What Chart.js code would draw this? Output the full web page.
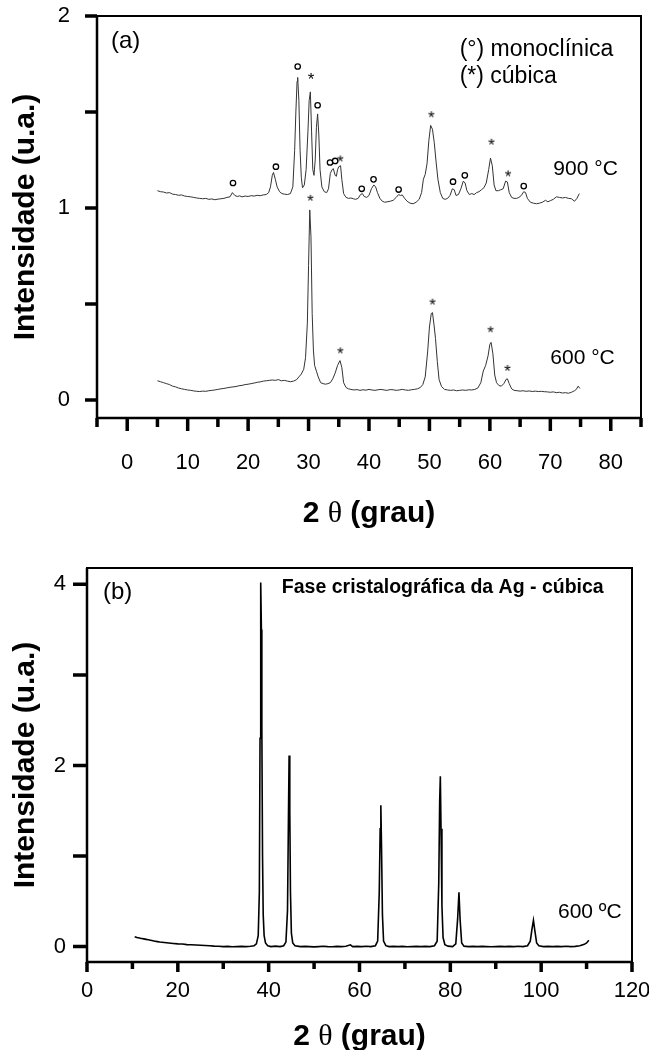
<!DOCTYPE html>
<html>
<head>
<meta charset="utf-8">
<script src="https://cdn.jsdelivr.net/npm/chart.js@4.4.1/dist/chart.umd.min.js"></script>
<style>
  body { margin: 0; background: #fff; }
  canvas { display: block; }
</style>
</head>
<body>
<canvas id="chartA" width="649" height="540"></canvas>
<canvas id="chartB" width="649" height="510"></canvas>
<script>
// ---- data (a): ZrO2 patterns, 2theta vs intensity ----
const x900 = [5.0,5.5,6.0,6.5,7.0,7.5,8.0,8.5,9.0,9.5,10.0,10.5,11.0,11.5,12.0,12.5,13.0,13.5,14.0,14.5,15.0,15.5,16.0,16.5,17.0,17.4,17.8,18.2,18.6,19.0,19.5,20.0,20.5,21.0,21.5,22.0,22.5,23.0,23.4,23.7,24.0,24.2,24.5,24.8,25.2,25.6,26.0,26.5,27.0,27.4,27.7,27.9,28.1,28.2,28.4,28.6,28.8,29.0,29.3,29.6,29.9,30.1,30.3,30.5,30.7,30.9,31.1,31.3,31.5,31.7,31.9,32.2,32.6,33.0,33.3,33.6,33.9,34.1,34.4,34.6,34.8,35.0,35.3,35.5,35.8,36.2,36.6,37.0,37.4,37.8,38.2,38.6,38.9,39.2,39.6,40.0,40.4,40.8,41.1,41.4,41.8,42.2,42.6,43.0,43.5,44.0,44.5,44.9,45.2,45.5,45.9,46.3,46.8,47.3,47.8,48.3,48.7,49.0,49.3,49.6,49.9,50.2,50.5,50.8,51.1,51.4,51.8,52.2,52.6,53.0,53.4,53.8,54.1,54.4,54.8,55.2,55.6,55.9,56.2,56.6,57.0,57.4,57.8,58.2,58.6,59.0,59.4,59.8,60.1,60.4,60.7,61.0,61.4,61.8,62.2,62.6,62.9,63.2,63.6,64.0,64.4,64.8,65.2,65.6,65.9,66.2,66.7,67.2,67.7,68.2,68.7,69.2,69.6,70.0,70.5,71.0,71.5,72.0,72.5,73.0,73.5,74.0,74.4,74.8];
const y900 = [1.090,1.085,1.083,1.078,1.080,1.072,1.070,1.066,1.068,1.062,1.060,1.058,1.055,1.052,1.050,1.048,1.050,1.045,1.047,1.043,1.046,1.048,1.050,1.055,1.058,1.080,1.065,1.060,1.063,1.058,1.062,1.060,1.064,1.062,1.066,1.064,1.068,1.070,1.080,1.110,1.170,1.185,1.150,1.110,1.085,1.075,1.072,1.070,1.075,1.110,1.300,1.500,1.660,1.680,1.560,1.300,1.160,1.105,1.120,1.200,1.400,1.560,1.605,1.400,1.200,1.170,1.250,1.420,1.490,1.380,1.200,1.110,1.085,1.080,1.100,1.180,1.200,1.205,1.170,1.165,1.200,1.215,1.220,1.150,1.075,1.055,1.050,1.052,1.048,1.045,1.050,1.070,1.075,1.060,1.055,1.065,1.100,1.120,1.110,1.080,1.050,1.035,1.030,1.032,1.035,1.040,1.055,1.070,1.065,1.068,1.050,1.035,1.025,1.022,1.030,1.045,1.080,1.150,1.175,1.230,1.350,1.430,1.410,1.340,1.240,1.150,1.080,1.050,1.045,1.050,1.065,1.100,1.095,1.065,1.070,1.100,1.140,1.130,1.090,1.070,1.075,1.070,1.080,1.085,1.095,1.105,1.130,1.200,1.260,1.220,1.120,1.090,1.090,1.095,1.100,1.140,1.135,1.080,1.055,1.050,1.050,1.055,1.065,1.085,1.080,1.050,1.030,1.025,1.022,1.025,1.030,1.040,1.032,1.038,1.045,1.058,1.055,1.052,1.055,1.050,1.048,1.035,1.050,1.075];

const x600 = [5.0,5.5,6.0,6.5,7.0,7.5,8.0,8.5,9.0,9.5,10.0,10.5,11.0,11.5,12.0,12.5,13.0,13.5,14.0,14.5,15.0,15.5,16.0,16.5,17.0,17.5,18.0,18.5,19.0,19.5,20.0,20.5,21.0,21.5,22.0,22.5,23.0,23.5,24.0,24.5,25.0,25.5,26.0,26.5,27.0,27.5,28.0,28.4,28.8,29.2,29.5,29.8,30.0,30.2,30.4,30.6,30.8,31.0,31.3,31.6,32.0,32.4,32.8,33.2,33.6,34.0,34.4,34.8,35.2,35.5,35.8,36.2,36.6,37.0,37.5,38.0,38.5,39.0,39.5,40.0,40.5,41.0,41.5,42.0,42.5,43.0,43.5,44.0,44.5,45.0,45.5,46.0,46.5,47.0,47.5,48.0,48.5,48.9,49.3,49.7,50.0,50.3,50.5,50.8,51.0,51.3,51.6,52.0,52.5,53.0,53.5,54.0,54.5,55.0,55.5,56.0,56.5,57.0,57.5,58.0,58.5,58.9,59.3,59.7,60.0,60.2,60.5,60.8,61.1,61.5,61.9,62.3,62.7,62.9,63.2,63.6,64.0,64.5,65.0,65.5,66.0,66.5,67.0,67.5,68.0,68.5,69.0,69.5,70.0,70.5,71.0,71.5,72.0,72.5,73.0,73.5,74.0,74.3,74.6,74.9];
const y600 = [0.100,0.095,0.090,0.085,0.080,0.072,0.068,0.062,0.058,0.055,0.052,0.050,0.047,0.045,0.044,0.046,0.045,0.048,0.050,0.052,0.055,0.058,0.060,0.063,0.066,0.068,0.070,0.074,0.076,0.080,0.082,0.085,0.088,0.092,0.094,0.098,0.100,0.102,0.104,0.102,0.106,0.100,0.102,0.098,0.095,0.098,0.105,0.120,0.135,0.160,0.220,0.400,0.700,0.990,0.850,0.450,0.260,0.180,0.150,0.120,0.090,0.085,0.082,0.085,0.090,0.110,0.140,0.180,0.205,0.170,0.090,0.065,0.058,0.055,0.052,0.054,0.050,0.053,0.051,0.055,0.052,0.050,0.053,0.055,0.052,0.050,0.054,0.053,0.050,0.052,0.055,0.052,0.050,0.053,0.055,0.058,0.065,0.080,0.120,0.250,0.380,0.450,0.455,0.380,0.320,0.200,0.105,0.070,0.055,0.052,0.050,0.052,0.048,0.050,0.052,0.050,0.053,0.052,0.055,0.062,0.090,0.150,0.180,0.230,0.290,0.300,0.240,0.130,0.090,0.075,0.072,0.085,0.108,0.110,0.085,0.058,0.050,0.048,0.046,0.048,0.045,0.047,0.044,0.046,0.044,0.045,0.043,0.042,0.040,0.042,0.038,0.040,0.036,0.038,0.035,0.040,0.048,0.055,0.072,0.060];

// peak markers (a)
const monoX = [17.5, 24.6, 28.2, 31.5, 33.55, 34.4, 38.8, 40.75, 44.9, 53.9, 55.85, 65.6];
const monoY = [1.13, 1.215, 1.737, 1.535, 1.237, 1.245, 1.10, 1.149, 1.096, 1.137, 1.17, 1.114];
const cubX = [30.4, 35.25, 50.3, 60.25, 63.0, 30.3, 35.25, 50.5, 60.1, 62.9];
const cubY = [1.688, 1.258, 1.488, 1.345, 1.18, 1.053, 0.258, 0.512, 0.368, 0.167];

// ticks (a)
const aXLabels = [0, 10, 20, 30, 40, 50, 60, 70, 80];
const aXMinor = [-5, 5, 15, 25, 35, 45, 55, 65, 75, 85];
const aYLabels = [0, 1, 2];
const aYTicks = [0, 0.5, 1, 1.5, 2];

// ---- data (b): Ag pattern ----
const agX = [10.5,11.0,11.5,12.0,12.5,13.0,13.5,14.0,14.5,15.0,15.5,16.0,17.0,18.0,19.0,20.0,21.0,22.0,23.0,24.0,25.0,26.0,27.0,28.0,29.0,30.0,31.0,32.0,33.0,34.0,35.0,36.0,36.8,37.3,37.7,37.95,38.1,38.2,38.3,38.4,38.5,38.65,38.8,39.0,39.3,39.8,40.5,41.5,42.5,43.3,43.8,44.15,44.35,44.5,44.65,44.8,45.0,45.3,45.8,47,48,49,50,51,52,53,54,55,56,57,58,58.5,59.5,60.5,61.5,62.5,63.5,64.0,64.35,64.55,64.7,64.85,65.05,65.3,65.8,66.5,67.5,68.5,69.5,70.5,71.5,72.5,73.5,74.5,75.5,76.5,77.1,77.45,77.65,77.8,77.95,78.15,78.4,78.8,79.5,80.5,81.2,81.6,81.9,82.15,82.5,83,84,85,86,87,88,89,90,91,92,93,94,95,96,97,97.6,98.0,98.3,98.6,99.0,99.5,100.5,101.5,102.5,103.5,104.5,105.5,106.5,107.5,108.5,109.5,110.0,110.5];
const agY = [0.11,0.10,0.095,0.09,0.085,0.08,0.075,0.07,0.065,0.06,0.055,0.05,0.045,0.04,0.035,0.03,0.028,0.022,0.02,0.018,0.015,0.012,0.01,0.005,0.004,0.0,0.002,-0.002,0.0,0.003,0.0,0.004,0.01,0.03,0.12,0.6,2.3,3.6,4.02,3.5,2.4,1.0,0.35,0.12,0.04,0.01,0.0,0.005,0.0,0.01,0.05,0.4,1.4,2.11,1.5,0.6,0.15,0.04,0.01,0.0,0.003,0.0,-0.003,0.0,0.004,0.0,-0.002,0.002,0.0,0.003,0.02,0.0,0.002,0.0,0.004,0.0,0.01,0.06,0.6,1.3,1.56,1.1,0.35,0.06,0.01,0.0,0.003,0.0,0.002,-0.002,0.0,0.003,0.0,0.002,0.0,0.01,0.06,0.7,1.6,1.88,1.3,0.45,0.1,0.02,0.005,0.0,0.03,0.3,0.6,0.3,0.04,0.005,0.0,0.003,0.0,0.002,0.0,-0.002,0.0,0.003,0.0,0.002,0.0,0.004,0.0,0.01,0.06,0.2,0.29,0.18,0.04,0.01,0.0,0.003,0.0,0.002,0.0,0.004,0.0,0.003,0.01,0.025,0.04,0.07];

const bXLabels = [0, 20, 40, 60, 80, 100, 120];
const bXMinor = [10, 30, 50, 70, 90, 110];
const bYLabels = [0, 2, 4];
const bYTicks = [0, 1, 2, 3, 4];

const FONT = '"Liberation Sans", Arial, sans-serif';
const pts = (xs, ys) => xs.map((v, i) => ({x: v, y: ys[i]}));

// small asterisk glyph used as point style
function starGlyph() {
  const c = document.createElement('canvas');
  c.width = 14; c.height = 14;
  const g = c.getContext('2d');
  g.fillStyle = '#000';
  g.font = '17px ' + FONT;
  g.textAlign = 'center';
  g.textBaseline = 'middle';
  g.fillText('*', 7, 7 + 17 * 0.25);
  return c;
}
const STAR = starGlyph();

// box + tick marks drawn on the scales
const framePlugin = {
  id: 'frame',
  afterDraw(chart, args, o) {
    const {ctx, chartArea: a, scales: {x, y}} = chart;
    ctx.save();
    ctx.strokeStyle = '#000';
    ctx.lineWidth = o.box;
    ctx.strokeRect(a.left, a.top, a.right - a.left, a.bottom - a.top);
    ctx.lineWidth = o.axis;
    ctx.beginPath();
    ctx.moveTo(a.left, a.top); ctx.lineTo(a.left, a.bottom); ctx.lineTo(a.right, a.bottom);
    ctx.stroke();
    ctx.lineWidth = o.tickW;
    ctx.beginPath();
    o.xMajor.forEach(v => { const p = x.getPixelForValue(v); ctx.moveTo(p, a.bottom); ctx.lineTo(p, a.bottom + o.majorLen); });
    o.xMinor.forEach(v => { const p = x.getPixelForValue(v); ctx.moveTo(p, a.bottom); ctx.lineTo(p, a.bottom + o.minorLen); });
    o.yTicks.forEach(v => { const p = y.getPixelForValue(v); ctx.moveTo(a.left, p); ctx.lineTo(a.left - o.yLen, p); });
    ctx.stroke();
    ctx.restore();
  }
};

// annotations in data coordinates + x title with a serif theta
const notesPlugin = {
  id: 'notes',
  afterDraw(chart, args, o) {
    const {ctx, chartArea: a, scales: {x, y}} = chart;
    ctx.save();
    ctx.fillStyle = '#000';
    ctx.textBaseline = 'middle';
    ctx.textAlign = 'left';
    o.items.forEach(t => {
      ctx.font = t.font;
      ctx.fillText(t.text, x.getPixelForValue(t.x), y.getPixelForValue(t.y));
    });
    const parts = [
      {t: '2 ', f: 'bold 30px ' + FONT},
      {t: '\u03b8', f: '30px "Liberation Serif", serif'},
      {t: ' (grau)', f: 'bold 30px ' + FONT}
    ];
    let w = 0;
    parts.forEach(p => { ctx.font = p.f; p.w = ctx.measureText(p.t).width; w += p.w; });
    let cx = (a.left + a.right) / 2 - w / 2;
    const ty = a.bottom + o.titleOffset;
    parts.forEach(p => { ctx.font = p.f; ctx.fillText(p.t, cx, ty); cx += p.w; });
    ctx.restore();
  }
};

function makeChart(id, cfg) {
  return new Chart(document.getElementById(id), {
    type: 'line',
    data: {datasets: cfg.datasets},
    plugins: [framePlugin, notesPlugin],
    options: {
      responsive: false,
      animation: false,
      events: [],
      layout: {padding: cfg.padding},
      plugins: {
        legend: {display: false},
        tooltip: {enabled: false},
        frame: cfg.frame,
        notes: cfg.notes
      },
      scales: {
        x: {
          type: 'linear',
          min: cfg.xMin, max: cfg.xMax,
          grid: {display: false, drawTicks: false},
          border: {display: false},
          afterBuildTicks: s => { s.ticks = cfg.xLabels.map(v => ({value: v})); },
          afterFit: s => { s.height = cfg.xHeight; s.paddingLeft = 0; s.paddingRight = 0; },
          ticks: {autoSkip: false, maxRotation: 0, padding: cfg.xPad, color: '#000', font: {family: FONT, size: 22}}
        },
        y: {
          type: 'linear',
          min: cfg.yMin, max: cfg.yMax,
          grid: {display: false, drawTicks: false},
          border: {display: false},
          afterBuildTicks: s => { s.ticks = cfg.yLabels.map(v => ({value: v})); },
          afterFit: s => { s.width = cfg.yWidth; s.paddingTop = 0; s.paddingBottom = 0; },
          ticks: {padding: cfg.yPad, color: '#000', font: {family: FONT, size: 22}},
          title: {display: true, text: 'Intensidade (u.a.)', color: '#000', padding: {top: 8, bottom: 0},
                  font: {family: FONT, size: 30, weight: 'bold'}}
        }
      }
    }
  });
}

makeChart('chartA', {
  padding: {top: 16, right: 6, left: 0, bottom: 0},
  xMin: -5, xMax: 85, yMin: -0.094, yMax: 2.0,
  xLabels: aXLabels, yLabels: aYLabels,
  xHeight: 122, yWidth: 97, xPad: 32, yPad: 27,
  frame: {box: 2, axis: 2.5, tickW: 3.5, xMajor: aXLabels, xMinor: aXMinor, yTicks: aYTicks,
          majorLen: 13, minorLen: 9, yLen: 12},
  notes: {titleOffset: 96, items: [
    {text: '(a)', x: -2.7, y: 1.87, font: '24px ' + FONT},
    {text: '(\u00b0) monocl\u00ednica', x: 55.0, y: 1.826, font: '23px ' + FONT},
    {text: '(*) c\u00fabica', x: 55.0, y: 1.684, font: '23px ' + FONT},
    {text: '900 \u00b0C', x: 70.5, y: 1.203, font: '21px ' + FONT},
    {text: '600 \u00b0C', x: 70.0, y: 0.215, font: '21px ' + FONT}
  ]},
  datasets: [
    {data: pts(x900, y900), borderColor: '#333', borderWidth: 1, pointRadius: 0, tension: 0},
    {data: pts(x600, y600), borderColor: '#333', borderWidth: 1, pointRadius: 0, tension: 0},
    {data: pts(monoX, monoY), showLine: false, pointStyle: 'circle', pointRadius: 2.7,
     pointBorderWidth: 1.3, pointBorderColor: '#000', pointBackgroundColor: '#fff'},
    {data: pts(cubX, cubY), showLine: false, pointStyle: STAR, pointRadius: 7}
  ]
});

makeChart('chartB', {
  padding: {top: 28, right: 17, left: 0, bottom: 0},
  xMin: 0, xMax: 120, yMin: -0.17, yMax: 4.18,
  xLabels: bXLabels, yLabels: bYLabels,
  xHeight: 88, yWidth: 87, xPad: 16, yPad: 21,
  frame: {box: 2, axis: 2.5, tickW: 3.5, xMajor: bXLabels, xMinor: bXMinor, yTicks: bYTicks,
          majorLen: 10, minorLen: 7, yLen: 14},
  notes: {titleOffset: 75, items: [
    {text: '(b)', x: 3.5, y: 3.915, font: '24px ' + FONT},
    {text: 'Fase cristalogr\u00e1fica da Ag - c\u00fabica', x: 42.9, y: 3.96, font: 'bold 19.5px ' + FONT},
    {text: '600 \u00baC', x: 103.7, y: 0.385, font: '21px ' + FONT}
  ]},
  datasets: [
    {data: pts(agX, agY), borderColor: '#000', borderWidth: 1.6, pointRadius: 0, tension: 0}
  ]
});
</script>
</body>
</html>
